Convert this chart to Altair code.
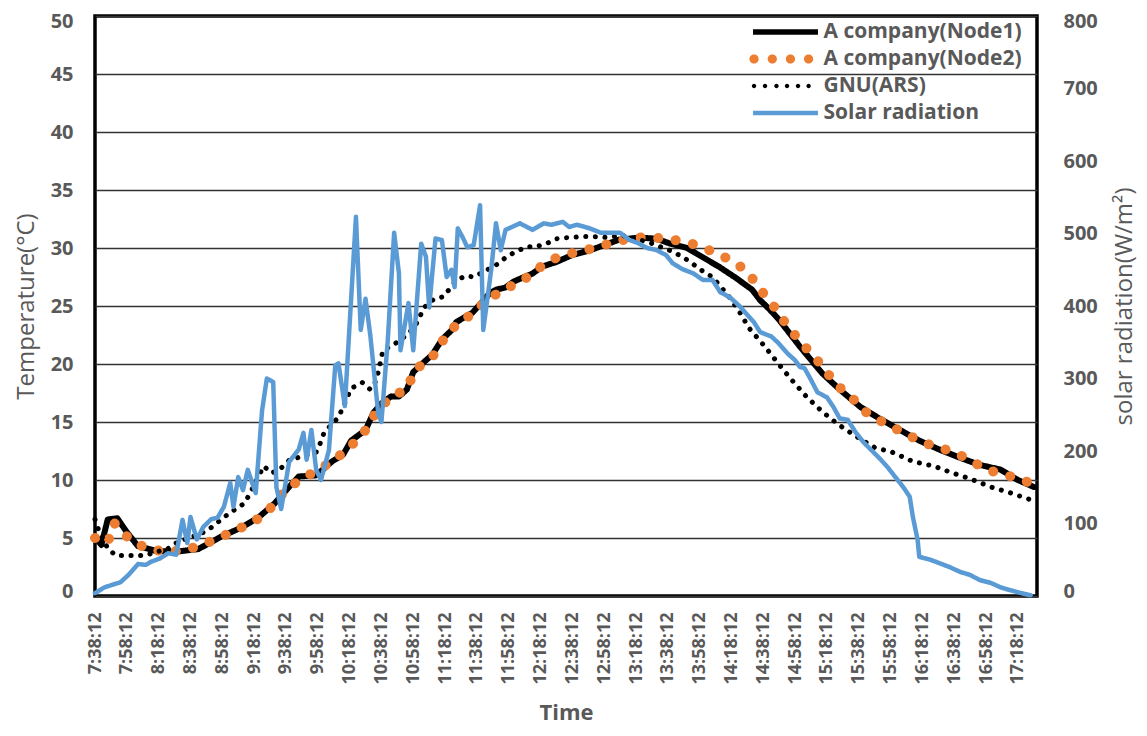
import altair as alt
import pandas as pd

# ---------------- data ----------------
node1_time = ["7:38","7:42","7:46","7:52","7:58","8:05","8:16","8:28","8:43","8:57",
              "9:10","9:21","9:31","9:40","9:46","9:57","10:07","10:14","10:19","10:28",
              "10:33","10:38","10:44","10:49","10:54","10:58","11:05","11:10","11:16","11:22",
              "11:25","11:31","11:35","11:41","11:46","11:50","11:56","12:01","12:06","12:13",
              "12:19","12:28","12:38","12:49","12:59","13:07","13:20","13:31","13:39","13:50",
              "14:00","14:10","14:21","14:31","14:36","14:42","14:48","15:01","15:15","15:26",
              "15:39","15:51","16:04","16:16","16:29","16:42","16:54","17:07","17:18","17:28"]
node1_temp = [5.1,4.4,6.6,6.7,5.5,4.3,3.9,3.8,4.05,5.1,
              5.9,6.8,8.0,9.4,10.3,10.4,11.6,12.2,13.4,14.3,
              15.8,16.6,17.2,17.2,17.8,19.3,20.2,20.8,22.1,22.9,
              23.6,24.1,24.4,25.3,26.1,26.4,26.6,27.1,27.4,27.8,
              28.4,28.8,29.4,29.8,30.3,30.7,30.9,30.8,30.4,30.0,
              29.2,28.4,27.4,26.4,25.5,24.7,23.8,21.5,19.2,17.8,
              16.3,15.3,14.3,13.4,12.6,11.9,11.3,10.9,10.0,9.4]

node2_time = ["7:38","7:46","7:50","7:59","8:10","8:23","8:35","8:47","8:59","9:10",
              "9:21","9:30","9:38","9:48","10:00","10:09","10:18","10:28","10:35","10:44",
              "10:54","10:59","11:10","11:17","11:25","11:36","11:44","11:56","12:07","12:16",
              "12:27","12:39","12:52","13:04","13:16","13:29","13:42","13:55","14:06","14:17",
              "14:28","14:35","14:43","14:51","14:59","15:08","15:16","15:23","15:33","15:42",
              "15:53","16:03","16:13","16:25","16:36","16:47","16:58","17:09","17:21","17:28"]
node2_temp = [5.0,4.6,6.3,5.0,4.1,3.8,3.95,4.5,5.2,5.9,
              6.7,7.8,9.2,10.1,11.0,11.8,12.8,14.3,15.9,17.2,
              17.8,19.5,20.6,22.1,23.4,24.4,25.5,26.5,27.2,28.2,
              29.1,29.6,30.0,30.5,30.9,30.9,30.7,30.3,29.7,29.0,
              28.0,26.6,25.3,23.7,22.3,20.9,19.7,18.3,17.2,15.9,
              15.0,14.3,13.6,12.9,12.5,11.8,10.9,10.5,10.0,9.6]

gnu_time = ["7:38","7:40","7:46","7:51","8:10","8:16","8:23","8:28","8:35","8:45",
            "8:51","9:02","9:12","9:16","9:24","9:29","9:34","9:40","9:57","10:00",
            "10:02","10:11","10:19","10:26","10:31","10:34","10:36","10:39","10:45","10:55",
            "11:00","11:05","11:11","11:17","11:25","11:31","11:36","11:47","11:52","11:57",
            "12:03","12:09","12:15","12:22","12:28","12:35","12:49","13:01","13:09","13:26",
            "13:39","13:45","13:51","13:56","14:01","14:06","14:11","14:17","14:23","14:29",
            "14:39","14:47","14:56","15:05","15:15","15:25","15:37","15:48","15:59","16:12",
            "16:25","16:37","16:48","17:01","17:13","17:26"]
gnu_temp = [6.6,5.8,4.1,3.5,3.5,3.8,4.0,4.5,4.9,5.4,
            5.9,7.1,8.0,9.0,11.2,10.6,10.9,11.7,12.4,13.3,
            14.1,15.4,17.9,18.4,17.8,18.4,19.3,21.2,21.6,22.6,
            23.5,24.9,25.6,25.8,27.2,27.6,27.5,28.3,28.7,29.3,
            29.7,30.1,30.1,30.4,30.8,30.9,31.0,30.9,31.1,30.5,
            29.8,29.4,28.9,28.4,27.9,27.5,26.7,25.7,24.5,23.1,
            21.5,20.1,18.6,17.2,15.9,14.8,13.7,12.8,12.4,11.6,
            11.2,10.6,10.1,9.4,8.9,8.3]

solar_time = ["7:38","7:44","7:54","7:59","8:05","8:10","8:13","8:19","8:24","8:29",
              "8:33","8:36","8:38","8:42","8:46","8:51","8:55","8:59","9:03","9:05",
              "9:08","9:11","9:14","9:19","9:23","9:26","9:30","9:32","9:35","9:40",
              "9:46","9:49","9:51","9:54","9:57","10:00","10:05","10:09","10:11","10:15",
              "10:22","10:25","10:28","10:31","10:36","10:38","10:42","10:46","10:49","10:50",
              "10:55","10:58","11:03","11:06","11:08","11:12","11:16","11:19","11:22","11:24",
              "11:26","11:29","11:32","11:36","11:40","11:42","11:47","11:50","11:53","11:56",
              "12:00","12:05","12:13","12:20","12:25","12:32","12:36","12:41","12:49","12:56",
              "13:08","13:14","13:19","13:25","13:31","13:37","13:41","13:47","13:54","14:00",
              "14:06","14:11","14:17","14:23","14:27","14:32","14:36","14:43","14:47","14:53",
              "14:58","15:01","15:04","15:08","15:12","15:18","15:22","15:26","15:31","15:36",
              "15:41","15:46","15:51","15:56","16:01","16:06","16:10","16:12","16:15","16:16",
              "16:23","16:29","16:35","16:42","16:48","16:54","17:01","17:07","17:13","17:20",
              "17:26"]
solar_rad = [4,12,19,29,44,43,47,52,59,57,
             105,73,109,78,95,106,108,123,156,123,
             164,146,174,142,256,300,295,150,120,185,
             202,225,188,229,174,160,201,318,321,262,
             523,367,410,360,252,240,353,501,445,339,
             404,339,486,468,398,493,491,440,450,426,
             507,495,481,484,539,367,450,514,477,505,
             509,514,505,514,512,516,509,512,507,501,
             501,491,487,480,477,470,459,451,445,436,
             436,419,412,400,390,378,364,358,350,335,
             325,316,314,298,281,274,261,245,243,226,
             212,201,190,178,164,150,137,109,77,54,
             50,45,40,33,29,22,18,12,8,4,
             1]

x_tick_labels = ["7:38:12","7:58:12","8:18:12","8:38:12","8:58:12","9:18:12","9:38:12",
                 "9:58:12","10:18:12","10:38:12","10:58:12","11:18:12","11:38:12","11:58:12",
                 "12:18:12","12:38:12","12:58:12","13:18:12","13:38:12","13:58:12","14:18:12",
                 "14:38:12","14:58:12","15:18:12","15:38:12","15:58:12","16:18:12","16:38:12",
                 "16:58:12","17:18:12"]

SERIES = ["A company(Node1)", "A company(Node2)", "GNU(ARS)", "Solar radiation"]
COLORS = ["#000000", "#ED7D31", "#000000", "#5B9BD5"]
DASHES = [[1, 0], [0.1, 17.5], [0.1, 9.5], [1, 0]]
WIDTHS = [6, 10, 5, 4.5]


def to_min(s):
    parts = s.split(":")
    return int(parts[0]) * 60 + int(parts[1]) + 0.2


def frame(times, vals, name):
    return pd.DataFrame({"t": [to_min(s) for s in times], "v": vals, "series": name})


df1 = frame(node1_time, node1_temp, SERIES[0])
df2 = frame(node2_time, node2_temp, SERIES[1])
df3 = frame(gnu_time, gnu_temp, SERIES[2])
df4 = frame(solar_time, solar_rad, SERIES[3])

tick_vals = [to_min(s) for s in x_tick_labels]

FONT = "Open Sans"
GREY = "#595959"


# ---- legend glyphs (SVG paths in symbol units; 1 unit = 11 px at symbolSize 484) ----
def bar_path(half_len, half_th):
    return "M%.2f,%.2fH%.2fV%.2fH%.2fZ" % (-half_len, -half_th, half_len, half_th, -half_len)


def dots_path(centers, r):
    return "".join("M%.2f,0a%.2f,%.2f 0 1,0 %.2f,0a%.2f,%.2f 0 1,0 %.2f,0"
                   % (c - r, r, r, 2 * r, r, r, -2 * r) for c in centers)


LEGEND_SHAPES = [
    bar_path(2.95, 0.25),
    dots_path([-2.86, -1.2, 0.45, 2.1], 0.42),
    dots_path([-2.86, -1.86, -0.82, 0.14, 1.14, 2.1], 0.2),
    bar_path(2.95, 0.2),
]

x_enc = alt.X(
    "t:Q",
    scale=alt.Scale(domain=[to_min("7:38"), to_min("17:30")], nice=False, zero=False),
    axis=alt.Axis(
        values=tick_vals,
        labelExpr="floor(datum.value/60) + ':' + (floor(datum.value%60) < 10 ? '0' : '') + floor(datum.value%60) + ':12'",
        labelAngle=270, labelAlign="right", labelBaseline="middle",
        labelFontSize=18, labelFontWeight="bold", labelColor=GREY, labelFont=FONT,
        labelPadding=16, labelOverlap=False, labelBound=False, labelFlush=False,
        grid=False, ticks=False, domain=False,
        title="Time", titleFontSize=22, titleFontWeight="bold", titleColor=GREY, titleFont=FONT,
        titlePadding=18,
    ),
)

LEGEND = alt.Legend(
    orient="none", legendX=678.5, legendY=4, padding=0,
    symbolSize=484,
    labelFontSize=21, labelFontWeight="bold", labelColor=GREY, labelFont=FONT,
    labelOffset=26, labelLimit=400, rowPadding=5,
)

y_left = alt.Y(
    "v:Q",
    scale=alt.Scale(domain=[0, 50], nice=False),
    axis=alt.Axis(
        values=[0, 5, 10, 15, 20, 25, 30, 35, 40, 45, 50],
        orient="left", grid=True, gridColor="#333333", gridWidth=1.5,
        ticks=False, domain=False,
        labelFontSize=20, labelFontWeight="bold", labelColor=GREY, labelFont=FONT,
        labelPadding=22, labelFlush=True, labelFlushOffset=5,
        title="Temperature(\u00b0C)", titleFontSize=24, titleFontWeight="normal",
        titleColor=GREY, titleFont=FONT, titlePadding=12,
    ),
)

y_right = alt.Y(
    "v:Q",
    scale=alt.Scale(domain=[0, 800], nice=False),
    axis=alt.Axis(
        values=[0, 100, 200, 300, 400, 500, 600, 700, 800],
        orient="right", grid=False, ticks=False, domain=False,
        labelFontSize=20, labelFontWeight="bold", labelColor=GREY, labelFont=FONT,
        labelPadding=26, labelFlush=True, labelFlushOffset=5,
        title="solar radiation(W/m\u00b2)", titleFontSize=24, titleFontWeight="normal",
        titleColor=GREY, titleFont=FONT, titlePadding=15,
        titleAngle=270, titleBaseline="top",
    ),
)


def line(df, y, i):
    return alt.Chart(df).mark_line(
        strokeCap="round", strokeJoin="round", strokeWidth=WIDTHS[i],
        color=COLORS[i], strokeDash=DASHES[i]
    ).encode(x=x_enc, y=y)


# legend-only layer: no rows survive the filter, the legend is drawn from the scale domain
legend_layer = (
    alt.Chart(pd.concat([df1, df2, df3]))
    .transform_filter("false")
    .mark_point(filled=True, opacity=1, strokeWidth=0)
    .encode(
        x=x_enc, y=y_left,
        color=alt.Color("series:N", scale=alt.Scale(domain=SERIES, range=COLORS), title=None, legend=LEGEND),
        shape=alt.Shape("series:N", scale=alt.Scale(domain=SERIES, range=LEGEND_SHAPES), title=None, legend=LEGEND),
    )
)

temps = alt.layer(line(df1, y_left, 0), line(df2, y_left, 1), line(df3, y_left, 2), legend_layer)
solar = line(df4, y_right, 3)

chart = (
    alt.layer(temps, solar)
    .resolve_scale(y="independent")
    .properties(width=942, height=580,
                autosize=alt.AutoSizeParams(type="none"),
                padding={"left": 87, "top": 8, "right": 102, "bottom": 132},
                background="white")
    .configure_view(stroke="black", strokeWidth=3.5)
)

chart.save("out.html", embed_options={"renderer": "svg", "actions": False})
